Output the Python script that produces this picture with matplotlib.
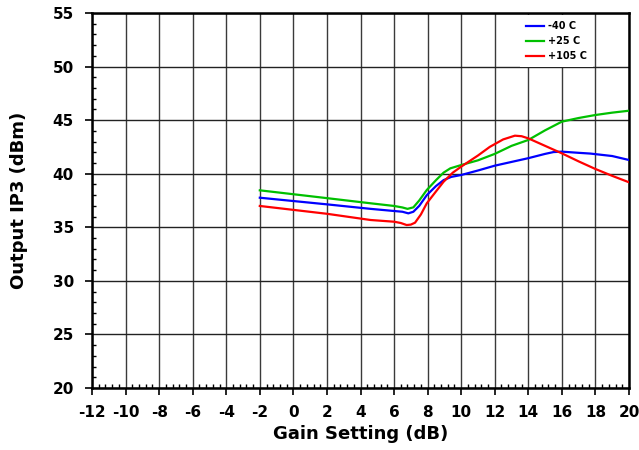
import matplotlib
matplotlib.use("Agg")
import matplotlib.pyplot as plt
from matplotlib.ticker import MultipleLocator

plt.rcParams['font.family'] = ['DejaVu Sans']
plt.rcParams['axes.unicode_minus'] = False

# Series
blue_x = [-2, 2, 4.6, 6, 6.5, 6.85, 7.15, 7.5, 7.95, 8.5, 8.95, 9.4, 10, 11, 12, 13, 14, 15, 15.5, 16, 17, 17.7, 19, 20]
blue_y = [37.76, 37.14, 36.72, 36.52, 36.45, 36.30, 36.45, 37.0, 38.0, 38.85, 39.4, 39.7, 39.88, 40.3, 40.75, 41.1, 41.45, 41.85, 42.02, 42.06, 41.95, 41.88, 41.65, 41.28]

green_x = [-2, 2, 4.6, 6, 6.5, 6.8, 7.15, 7.5, 7.95, 8.5, 8.95, 9.35, 10, 11, 12, 13, 14, 15, 16, 17, 18, 19, 20]
green_y = [38.45, 37.72, 37.24, 36.99, 36.85, 36.72, 36.86, 37.5, 38.48, 39.4, 40.1, 40.5, 40.81, 41.25, 41.85, 42.6, 43.15, 44.05, 44.86, 45.2, 45.48, 45.7, 45.88]

red_x = [-2, 2, 4.6, 6, 6.4, 6.75, 7.0, 7.25, 7.6, 7.95, 8.5, 8.95, 9.5, 10, 11, 11.7, 12.5, 13.2, 13.6, 14, 15, 16, 17, 18, 19, 20]
red_y = [36.99, 36.26, 35.68, 35.52, 35.4, 35.21, 35.25, 35.43, 36.2, 37.24, 38.35, 39.25, 40.1, 40.66, 41.7, 42.5, 43.2, 43.55, 43.5, 43.3, 42.6, 41.9, 41.15, 40.44, 39.8, 39.2]

labels = ['-40 C', '+25 C', '+105 C']
colors = ['#0000ff', '#00c000', '#ff0000']

fig = plt.figure(figsize=(6.39, 4.5), dpi=100)
ax = fig.add_axes([92/639, 1-388/450, 537/639, 375/450])

for xs, ys, lab, c in zip([blue_x, green_x, red_x], [blue_y, green_y, red_y], labels, colors):
    ax.plot(xs, ys, color=c, lw=1.6, label=lab, solid_joinstyle='round', zorder=3)

ax.set_xlim(-12, 20)
ax.set_ylim(20, 55)
ax.xaxis.set_major_locator(MultipleLocator(2))
ax.xaxis.set_minor_locator(MultipleLocator(0.4))
ax.yaxis.set_major_locator(MultipleLocator(5))
ax.yaxis.set_minor_locator(MultipleLocator(1))

ax.grid(True, which='major', axis='x', color='#3a3a3a', lw=1.0)
ax.grid(True, which='major', axis='y', color='#222222', lw=1.0)
ax.set_axisbelow(True)

ax.tick_params(which='major', direction='out', length=5, width=1.2, labelsize=11)
ax.tick_params(axis='y', which='major', pad=8)
ax.tick_params(axis='x', which='major', pad=7)
ax.tick_params(which='minor', direction='in', length=3, width=1.0)
for lab in ax.get_xticklabels() + ax.get_yticklabels():
    lab.set_fontweight('bold')
for s in ax.spines.values():
    s.set_linewidth(1.8)
    s.set_color('black')

ax.set_xlabel('Gain Setting (dB)', fontsize=13, fontweight='bold')
ax.set_ylabel('Output IP3 (dBm)', fontsize=13, fontweight='bold')
ax.xaxis.set_label_coords(0.5, (388 - 425) / 375)
ax.yaxis.set_label_coords((28 - 92) / 537, 0.5)

leg = ax.legend(loc='center', bbox_to_anchor=(0.865, 0.925),
                prop={'weight': 'bold', 'size': 7}, frameon=True, framealpha=1,
                facecolor='white', edgecolor='none', fancybox=False,
                handlelength=1.8, handletextpad=0.4, labelspacing=0.5, borderpad=0.6)
leg.set_zorder(5)

fig.savefig('out.png', dpi=100)
